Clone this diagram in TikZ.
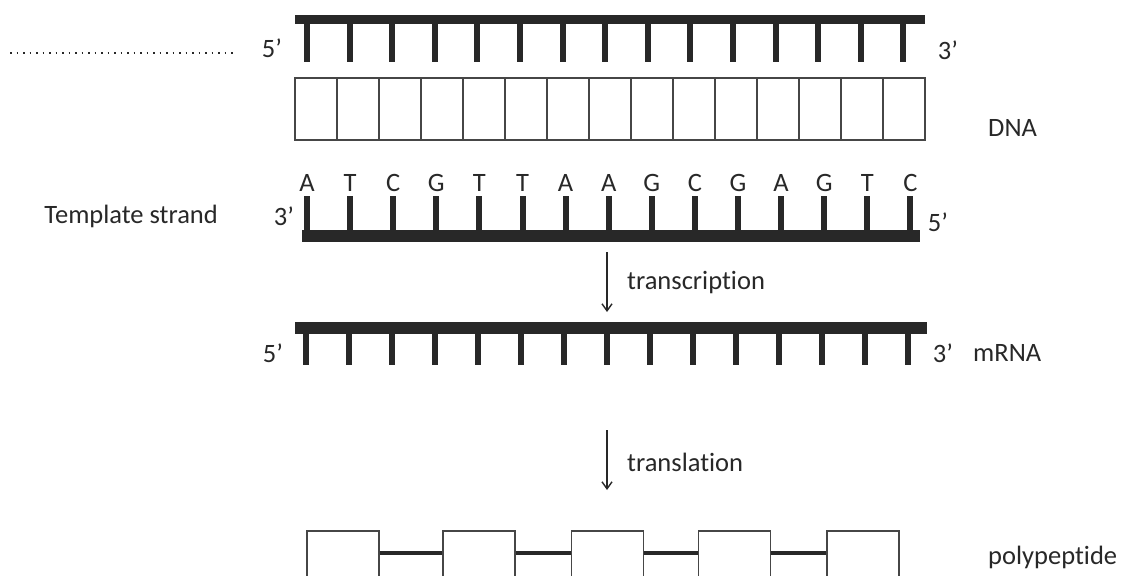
\documentclass[tikz,border=0pt]{standalone}
\usepackage{fontspec}
\setmainfont{Carlito}[Ligatures={NoCommon}]
\usetikzlibrary{arrows.meta}
\definecolor{ink}{RGB}{40,40,40}
\definecolor{boxline}{RGB}{70,70,70}
\begin{document}
\begin{tikzpicture}[x=1pt,y=-1pt,
  lbl/.style={inner sep=0pt, font=\fontsize{26.5}{30}\selectfont, text=ink},
  bar/.style={fill=ink},
  tickline/.style={draw=ink, line width=6pt, line cap=butt},
  cell/.style={draw=boxline, line width=1.3pt},
  flow/.style={draw=ink, line width=1.4pt, -{Straight Barb[length=7pt,width=10pt,line width=1.4pt]}},
  aa/.style={draw=boxline, line width=1.3pt, minimum width=72pt, minimum height=72pt, inner sep=0pt},
  bond/.style={draw=ink, line width=4pt}
]
\clip (0,0) rectangle (1128,576);
\fill[white] (0,0) rectangle (1128,576);

% coding strand
\draw[ink, line width=1.6pt, dash pattern=on 1.6pt off 4.9pt] (10,53) coordinate (d1) -- (233,53) coordinate (d2);
\node[lbl] (c5) at (272,48) {5’};
\fill[bar] (295,15) rectangle (925,24);
\foreach \k in {0,...,14} {
  \coordinate (ct\k) at ({307+42.6*\k},24);
  \draw[tickline] (ct\k) -- ++(0,38);
}
\node[lbl] (c3) at (948,50) {3’};

% DNA boxes
\foreach \k in {0,...,14} {
  \draw[cell] ({295+42*\k},78) rectangle ({295+42*(\k+1)},140);
}
\node[lbl, anchor=west] (dna) at (988,128) {DNA};

% template strand
\node[lbl, anchor=east] (tmpl) at (218,216) {Template strand};
\node[lbl] (t3) at (284,216) {3’};
\foreach \l [count=\k from 0] in {A,T,C,G,T,T,A,A,G,C,G,A,G,T,C} {
  \node[lbl] (b\k) at ({307+43.1*\k},183) {\l};
  \coordinate (tt\k) at ({307+43.1*\k},230);
  \draw[tickline] (tt\k) -- ++(0,-34);
}
\fill[bar] (302,230) rectangle (920,242);
\node[lbl] (t5) at (938,222) {5’};

% transcription
\coordinate (tr1) at (607,252);
\coordinate (tr2) at (607,312);
\draw[flow] (tr1) -- (tr2);
\node[lbl, anchor=west] (trlab) at (627,283) {transcription};

% mRNA
\node[lbl] (m5) at (273,353) {5’};
\fill[bar] (295,322) rectangle (927,334);
\foreach \k in {0,...,14} {
  \coordinate (mt\k) at ({306+43*\k},334);
  \draw[tickline] (mt\k) -- ++(0,31);
}
\node[lbl] (m3) at (943,353) {3’};
\node[lbl, anchor=west] (mrna) at (973,353) {mRNA};

% translation
\coordinate (tl1) at (607,430);
\coordinate (tl2) at (607,490);
\draw[flow] (tl1) -- (tl2);
\node[lbl, anchor=west] (tllab) at (627,462) {translation};

% polypeptide
\node[aa] (p1) at (343,567) {};
\node[aa] (p2) at (479,567) {};
\node[aa] (p3) at (607.5,567) {};
\node[aa] (p4) at (734.5,567) {};
\node[aa] (p5) at (863,567) {};
\foreach \a/\b in {p1/p2,p2/p3,p3/p4,p4/p5} {
  \draw[bond] ([yshift=14pt]\a.east) -- ([yshift=14pt]\b.west);
}
\node[lbl, anchor=west] (poly) at (988,557) {polypeptide};
\end{tikzpicture}
\end{document}
